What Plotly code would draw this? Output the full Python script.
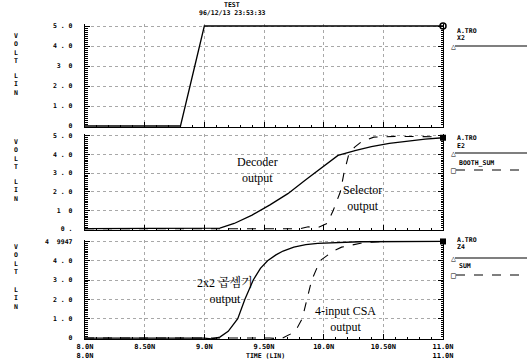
import plotly.graph_objects as go

# ---------------- data ----------------
# panel 1 : A.TRO X2
t_x2 = [8.0, 8.80, 9.0, 11.0]
v_x2 = [0.0, 0.0, 5.0, 5.0]

# panel 2 : A.TRO E2 (Decoder output, solid)
t_e2 = [8.0, 9.0, 9.13, 9.25, 9.4, 9.55, 9.7, 9.85, 10.0, 10.12, 10.27, 10.4, 10.55, 10.7, 10.85, 11.0]
v_e2 = [0.02, 0.02, 0.05, 0.3, 0.75, 1.3, 1.9, 2.65, 3.4, 3.95, 4.22, 4.42, 4.6, 4.72, 4.82, 4.9]

# panel 2 : BOOTH_SUM (Selector output, dashed)
t_bs = [8.0, 9.8, 9.87, 9.95, 10.03, 10.08, 10.14, 10.17, 10.21, 10.26, 10.32, 10.42, 10.6, 11.0]
v_bs = [0.02, 0.02, 0.12, 0.08, 0.3, 1.0, 2.0, 3.0, 4.0, 4.4, 4.7, 4.93, 4.97, 4.95]

# panel 3 : A.TRO Z4 (2x2 multiplier output, solid)
t_z4 = [8.0, 9.0, 9.06, 9.13, 9.2, 9.28, 9.34, 9.41, 9.47, 9.53, 9.6, 9.66, 9.75, 9.85, 9.95, 10.1, 10.3, 11.0]
v_z4 = [0.0, 0.0, -0.05, 0.05, 0.35, 1.0, 2.0, 3.0, 3.6, 4.0, 4.3, 4.5, 4.7, 4.83, 4.9, 4.95, 4.98, 4.9947]

# panel 3 : SUM (4-input CSA output, dashed)
t_sum = [8.0, 9.55, 9.64, 9.72, 9.78, 9.82, 9.86, 9.9, 9.97, 10.03, 10.08, 10.15, 10.22, 10.31, 10.4, 10.5, 11.0]
v_sum = [0.0, 0.0, -0.05, 0.2, 0.55, 1.0, 2.0, 3.0, 4.0, 4.3, 4.5, 4.7, 4.8, 4.9, 4.96, 4.99, 4.9947]

x_tickvals = [8.0, 8.5, 9.0, 9.5, 10.0, 10.5, 11.0]
x_ticktext = ["8.0N<br>8.0N", "8.50N", "9.0N", "9.50N", "10.0N", "10.50N", "11.0N<br>11.0N"]

y1_vals = [0, 1, 2, 3, 4, 5]
y1_text = ["0", "1 . 0", "2 . 0", "3  0", "4 . 0", "5 . 0"]
y2_vals = [0, 1, 2, 3, 4, 5]
y2_text = ["0 .", "1  0", "2 . 0", "3 . 0", "4 . 0", "5 . 0"]
y3_vals = [0, 1, 2, 3, 4, 4.9947]
y3_text = ["0", "1 . 0", "2 . 0", "3 . 0", "4 . 0", "4  9947"]

# ---------------- figure ----------------
W, H = 527, 364
MONO = "DejaVu Sans Mono"
SERIF = "Liberation Serif, Noto Serif CJK KR, Noto Sans CJK KR, serif"

def px(x):
    return x / W

def py(y):
    return 1 - y / H

fig = go.Figure()
solid = dict(color="black", width=1.3)
dashed = dict(color="black", width=1.1, dash="dash")

fig.add_trace(go.Scatter(x=t_x2, y=v_x2, mode="lines", line=solid, xaxis="x", yaxis="y"))
fig.add_trace(go.Scatter(x=t_e2, y=v_e2, mode="lines", line=solid, xaxis="x2", yaxis="y2"))
fig.add_trace(go.Scatter(x=t_bs, y=v_bs, mode="lines", line=dashed, xaxis="x2", yaxis="y2"))
fig.add_trace(go.Scatter(x=t_z4, y=v_z4, mode="lines", line=solid, xaxis="x3", yaxis="y3"))
fig.add_trace(go.Scatter(x=t_sum, y=v_sum, mode="lines", line=dashed, xaxis="x3", yaxis="y3"))

# end markers
fig.add_trace(go.Scatter(x=[t_x2[-1]], y=[v_x2[-1]], mode="markers", cliponaxis=False,
                         marker=dict(symbol="circle-open", size=6, color="black", line=dict(width=1.5)),
                         xaxis="x", yaxis="y"))
fig.add_trace(go.Scatter(x=[t_e2[-1]], y=[v_e2[-1]], mode="markers", cliponaxis=False,
                         marker=dict(symbol="square", size=6, color="black"), xaxis="x2", yaxis="y2"))
fig.add_trace(go.Scatter(x=[t_z4[-1]], y=[v_z4[-1]], mode="markers", cliponaxis=False,
                         marker=dict(symbol="square", size=6, color="black"), xaxis="x3", yaxis="y3"))

xdom = [px(85), px(443)]
doms = [[py(127), py(24)], [py(230), py(134)], [py(339), py(240)]]
yranges = [[-0.05, 5.1], [-0.05, 5.1], [-0.05, 5.07]]

def xaxis_cfg(anchor, labels):
    return dict(
        domain=xdom, anchor=anchor, range=[8.0, 11.0], automargin=False,
        showline=True, linecolor="black", linewidth=1.2, mirror=False,
        ticks="inside", ticklen=5, tickcolor="black",
        tickvals=x_tickvals, ticktext=x_ticktext, showticklabels=labels,
        ticklabelstandoff=0,
        tickfont=dict(family=MONO, size=7, color="black", weight="bold"),
        showgrid=True, gridcolor="#a8a8a8", griddash="dot", gridwidth=1,
        minor=dict(ticks="inside", ticklen=2.5, dtick=0.1, tick0=8.0, tickcolor="black", showgrid=False),
        zeroline=False, fixedrange=True,
    )

def yaxis_cfg(anchor, dom, rng, vals, text):
    return dict(
        domain=dom, anchor=anchor, range=rng, automargin=False,
        showline=True, linecolor="black", linewidth=1.2, mirror="ticks",
        ticks="inside", ticklen=5, tickcolor="black",
        tickvals=vals, ticktext=text, ticklabelstandoff=10,
        tickfont=dict(family=MONO, size=6.5, color="black", weight="bold"),
        showgrid=True, gridcolor="#a8a8a8", griddash="dot", gridwidth=1,
        minor=dict(ticks="inside", ticklen=2.5, dtick=0.1, tick0=0, tickcolor="black", showgrid=False),
        zeroline=False, fixedrange=True,
    )

fig.update_layout(
    width=W, height=H,
    margin=dict(l=0, r=0, t=0, b=0, autoexpand=False),
    paper_bgcolor="white", plot_bgcolor="white",
    showlegend=False,
    xaxis=xaxis_cfg("y", False),
    xaxis2=xaxis_cfg("y2", False),
    xaxis3=xaxis_cfg("y3", True),
    yaxis=yaxis_cfg("x", doms[0], yranges[0], y1_vals, y1_text),
    yaxis2=yaxis_cfg("x2", doms[1], yranges[1], y2_vals, y2_text),
    yaxis3=yaxis_cfg("x3", doms[2], yranges[2], y3_vals, y3_text),
)

ann = []
def txt(x, y, s, size=6.5, family=MONO, xanchor="center", yanchor="middle", bold=True):
    ann.append(dict(x=px(x), y=py(y), xref="paper", yref="paper", text=s, showarrow=False,
                    font=dict(family=family, size=size, color="black",
                              weight="bold" if bold else "normal"),
                    xanchor=xanchor, yanchor=yanchor, align="center"))

# title
txt(232, 5, "TEST")
txt(232, 13, "96/12/13 23:53:33")

# y-axis titles
for vc, lc in [(49, 84), (154, 190), (259, 298)]:
    txt(16, vc, "V<br>O<br>L<br>T")
    txt(16, lc, "L<br>I<br>N")

# x title
txt(265, 356, "TIME (LIN)")

# in-plot labels
txt(257, 170, "Decoder<br>output", size=12, family=SERIF, bold=False)
txt(362, 198, "Selector<br>output", size=12, family=SERIF, bold=False)
txt(225, 290, "2x2 곱셈기<br>output", size=12, family=SERIF, bold=False)
txt(345, 319, "4-input CSA<br>output", size=12, family=SERIF, bold=False)

# right-hand legend
legend_items = [
    (31, 38, 46, "A.TRO", "X2"),
    (138, 146, 153, "A.TRO", "E2"),
    (240, 247, 258, "A.TRO", "Z4"),
]
shapes = []
for ty, ny, ly, a, b in legend_items:
    txt(455, ty, a, xanchor="left")
    txt(455, ny, b, xanchor="left")
    txt(453, ly, "△", size=8)
    shapes.append(dict(type="line", xref="paper", yref="paper", x0=px(455), x1=1.0,
                       y0=py(ly), y1=py(ly), line=dict(color="black", width=1.2)))
for ny, ly, name in [(163, 170, "BOOTH_SUM"), (266, 275, "SUM")]:
    txt(457, ny, name, xanchor="left")
    txt(453, ly, "□", size=8)
    shapes.append(dict(type="line", xref="paper", yref="paper", x0=px(456), x1=1.0,
                       y0=py(ly), y1=py(ly), line=dict(color="black", width=1.2, dash="dash")))

fig.update_layout(annotations=ann, shapes=shapes)
fig.write_html(
    "out.html",
    config={"displayModeBar": False, "staticPlot": True},
    post_script="document.body.style.margin='0';document.body.style.overflow='hidden';",
)
